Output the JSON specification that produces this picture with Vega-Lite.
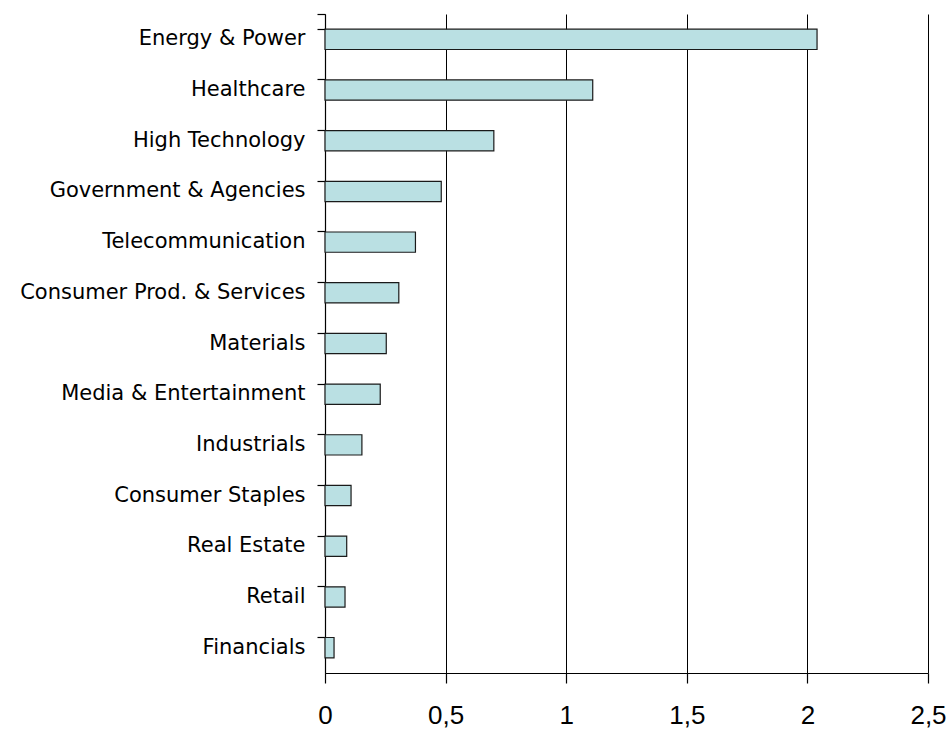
{
  "$schema": "https://vega.github.io/schema/vega-lite/v6.json",
  "width": 603,
  "height": 659,
  "autosize": "none",
  "padding": {"left": 325, "top": 14, "right": 23, "bottom": 56},
  "background": "white",
  "config": {
    "view": {"stroke": null},
    "font": "Liberation Sans"
  },
  "data": {
    "values": [
      {"sector": "Energy & Power", "value": 2.04},
      {"sector": "Healthcare", "value": 1.11},
      {"sector": "High Technology", "value": 0.70},
      {"sector": "Government & Agencies", "value": 0.482},
      {"sector": "Telecommunication", "value": 0.375},
      {"sector": "Consumer Prod. & Services", "value": 0.306},
      {"sector": "Materials", "value": 0.254},
      {"sector": "Media & Entertainment", "value": 0.229},
      {"sector": "Industrials", "value": 0.153},
      {"sector": "Consumer Staples", "value": 0.108},
      {"sector": "Real Estate", "value": 0.09},
      {"sector": "Retail", "value": 0.083},
      {"sector": "Financials", "value": 0.0375}
    ]
  },
  "mark": {"type": "bar", "fill": "#BAE0E3", "stroke": "#1a1a1a", "strokeWidth": 1.2},
  "encoding": {
    "y": {
      "field": "sector",
      "type": "nominal",
      "sort": null,
      "scale": {"paddingInner": 0.6, "paddingOuter": 0.3},
      "axis": {
        "title": null,
        "bandPosition": 0,
        "tickExtra": true,
        "domainColor": "#000000",
        "domainWidth": 1.2,
        "tickColor": "#000000",
        "tickWidth": 1.2,
        "tickSize": 8,
        "labelFont": "DejaVu Sans",
        "labelFontSize": 21,
        "labelColor": "#000000",
        "labelPadding": 12,
        "labelAlign": "right",
        "labelLimit": 0,
        "grid": false
      }
    },
    "x": {
      "field": "value",
      "type": "quantitative",
      "scale": {"domain": [0, 2.5], "nice": false},
      "axis": {
        "title": null,
        "values": [0, 0.5, 1, 1.5, 2, 2.5],
        "labelExpr": "replace(format(datum.value, '~g'), '.', ',')",
        "grid": true,
        "gridColor": "#000000",
        "gridOpacity": 1,
        "gridWidth": 1,
        "domainColor": "#000000",
        "domainWidth": 1.2,
        "tickColor": "#000000",
        "tickWidth": 1.2,
        "tickSize": 10,
        "labelFontSize": 26,
        "labelColor": "#000000",
        "labelPadding": 19,
        "labelFlush": false
      }
    }
  }
}
